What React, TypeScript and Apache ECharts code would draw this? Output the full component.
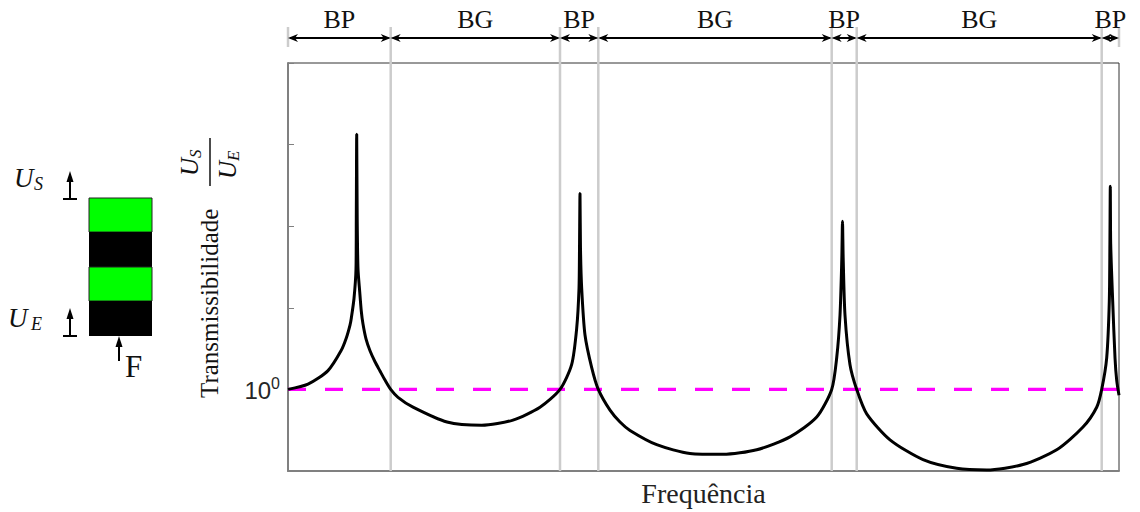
import React, { useEffect, useRef } from 'react';
import * as echarts from 'echarts';

// Frequency (arbitrary units, axis 0..831) and transmissibility U_S/U_E
const frequency = [
  0, 20, 40, 53, 58.3, 62, 63.3, 66, 68, 68.3, 68.7, 69.2, 70, 71.7, 73.3, 75, 78, 82, 87, 92, 97,
  102.7, 110, 125, 159, 193.7, 225, 252, 272, 283.7, 288.7, 291, 291.5, 292, 292.5, 293.7, 297, 303.7,
  310.3, 322, 332, 342, 368.7, 402, 435, 468.7, 502, 528.7, 543.7, 548.7, 552, 553.8, 554.5, 555.2,
  557, 562, 568.7, 578.7, 602, 635, 668.7, 698.7, 735, 768.7, 795, 808.7, 813.7, 818.7, 821.3, 821.9,
  822.3, 822.7, 824.7, 827, 828.7, 831,
];
const transmissibility = [
  1.0, 1.16, 1.7, 2.97, 4.27, 6.14, 7.46, 13.0, 30.1, 122, 1340, 122, 30.1, 15.8, 9.07, 6.31, 4.15, 2.97, 2.18, 1.68, 1.3,
  1.0, 0.8, 0.605, 0.398, 0.363, 0.421, 0.605, 1.0, 2.03, 5.64, 17.2, 52.6, 251, 52.6, 17.2, 4.64, 1.85,
  1.0, 0.556, 0.398, 0.314, 0.21, 0.164, 0.16, 0.182, 0.262, 0.458, 1.0, 2.44, 8.11, 39.8, 115, 39.8,
  8.11, 2.01, 1.0, 0.502, 0.241, 0.138, 0.108, 0.103, 0.12, 0.182, 0.346, 0.605, 1.0, 2.44, 12.0, 60.6,
  308, 60.6, 12.0, 2.44, 1.29, 0.846,
];
const bandEdges = [0, 102.7, 272, 310.3, 543.7, 568.7, 813.7, 831];
const bandLabels = ['BP', 'BG', 'BP', 'BG', 'BP', 'BG', 'BP'];
const referenceLevel = 1;
const xRange = [0, 831];
const yRange = [0.1, 10000];

const SERIF = '"Liberation Serif", "DejaVu Serif", serif';
const SANS = '"Liberation Sans", Arial, sans-serif';

function txt(text: string, x: number, y: number, size: number, italic: boolean, align = 'left', family = SERIF) {
  return {
    type: 'text',
    style: {
      text, x, y,
      font: `${italic ? 'italic ' : ''}${size}px ${family}`,
      fill: '#111',
      textAlign: align, align,
      textVerticalAlign: 'middle', verticalAlign: 'middle',
    },
  };
}

export default function App() {
  const ref = useRef<HTMLDivElement>(null);
  useEffect(() => {
    if (!ref.current) return;
    const chart = echarts.init(ref.current, null, { renderer: 'svg' });
    const curve = frequency.map((f, i) => [f, transmissibility[i]]);
    const bands = bandLabels.map((_, i) => [bandEdges[i], bandEdges[i + 1], referenceLevel]);
    const edges = bandEdges.map((e) => [e, referenceLevel]);

    const option: any = {
      animation: false,
      grid: { left: 288, top: 63, width: 831, height: 412, show: true, borderColor: '#333', borderWidth: 1, backgroundColor: 'transparent' },
      xAxis: {
        type: 'value', min: xRange[0], max: xRange[1],
        name: 'Frequência', nameLocation: 'middle', nameGap: 8,
        nameTextStyle: { fontFamily: SERIF, fontSize: 28, color: '#222' },
        axisLine: { show: true, onZero: false, lineStyle: { color: '#808080', width: 2 } },
        axisTick: { show: false }, axisLabel: { show: false }, splitLine: { show: false },
      },
      yAxis: {
        type: 'log', logBase: 10, min: yRange[0], max: yRange[1],
        axisLine: { show: true, lineStyle: { color: '#808080', width: 2 } },
        axisTick: { show: true, inside: true, length: 6, lineStyle: { color: '#808080', width: 1 } },
        minorTick: { show: false }, splitLine: { show: false },
        axisLabel: {
          margin: 8,
          formatter: (v: number) => (Math.abs(v - 1) < 1e-6 ? '{b|10}{s|0}' : ''),
          rich: {
            b: { fontFamily: SANS, fontSize: 24, color: '#262626', verticalAlign: 'bottom' },
            s: { fontFamily: SANS, fontSize: 16, color: '#262626', verticalAlign: 'bottom', padding: [0, 0, 11, 0] },
          },
        },
      },
      series: [
        {
          type: 'custom', z: 1, clip: false, data: edges, encode: { x: 0, y: 1 },
          renderItem: (params: any, api: any) => {
            const x = api.coord([api.value(0), referenceLevel])[0];
            const cs = params.coordSys;
            const isEnd = params.dataIndex === 0 || params.dataIndex === bandEdges.length - 1;
            return {
              type: 'line',
              shape: { x1: x, y1: cs.y - 36, x2: x, y2: isEnd ? cs.y - 16 : cs.y + cs.height },
              style: { stroke: '#cccccc', lineWidth: 2.5 },
            };
          },
        },
        {
          type: 'custom', z: 5, clip: false, data: bands, encode: { x: [0, 1], y: 2 },
          renderItem: (params: any, api: any) => {
            const x1 = api.coord([api.value(0), referenceLevel])[0];
            const x2 = api.coord([api.value(1), referenceLevel])[0];
            const cs = params.coordSys;
            const ya = cs.y - 25;
            const L = 10, H = 4, N = 7;
            return {
              type: 'group',
              children: [
                { type: 'line', shape: { x1: x1 + 2, y1: ya, x2: x2 - 2, y2: ya }, style: { stroke: '#000', lineWidth: 2 } },
                { type: 'polygon', shape: { points: [[x1, ya], [x1 + L, ya - H], [x1 + N, ya], [x1 + L, ya + H]] }, style: { fill: '#000' } },
                { type: 'polygon', shape: { points: [[x2, ya], [x2 - L, ya - H], [x2 - N, ya], [x2 - L, ya + H]] }, style: { fill: '#000' } },
                {
                  type: 'text',
                  style: {
                    text: bandLabels[params.dataIndex], x: (x1 + x2) / 2, y: cs.y - 44,
                    font: `26px ${SERIF}`, fill: '#111',
                    textAlign: 'center', align: 'center', textVerticalAlign: 'middle', verticalAlign: 'middle',
                  },
                },
              ],
            };
          },
        },
        {
          type: 'line', z: 3, data: [[xRange[0], referenceLevel], [xRange[1], referenceLevel]],
          symbol: 'none', lineStyle: { color: '#ff00ff', width: 3.4, type: [18, 19] },
        },
        {
          type: 'line', z: 4, data: curve, symbol: 'none', smooth: 0.25,
          lineStyle: { color: '#000', width: 3 },
        },
      ],
      graphic: [
        // block diagram
        { type: 'rect', shape: { x: 89, y: 198, width: 63, height: 34 }, style: { fill: '#00ff00', stroke: '#222', lineWidth: 1 } },
        { type: 'rect', shape: { x: 89, y: 232, width: 63, height: 35 }, style: { fill: '#000' } },
        { type: 'rect', shape: { x: 89, y: 267, width: 63, height: 34 }, style: { fill: '#00ff00', stroke: '#222', lineWidth: 1 } },
        { type: 'rect', shape: { x: 89, y: 301, width: 63, height: 35 }, style: { fill: '#000' } },
        { type: 'line', shape: { x1: 70, y1: 199, x2: 70, y2: 180 }, style: { stroke: '#000', lineWidth: 2 } },
        { type: 'polygon', shape: { points: [[70, 171], [66.5, 182], [73.5, 182]] }, style: { fill: '#000' } },
        { type: 'line', shape: { x1: 63, y1: 199, x2: 77, y2: 199 }, style: { stroke: '#000', lineWidth: 2 } },
        { type: 'line', shape: { x1: 70, y1: 336, x2: 70, y2: 317 }, style: { stroke: '#000', lineWidth: 2 } },
        { type: 'polygon', shape: { points: [[70, 308], [66.5, 319], [73.5, 319]] }, style: { fill: '#000' } },
        { type: 'line', shape: { x1: 63, y1: 336, x2: 77, y2: 336 }, style: { stroke: '#000', lineWidth: 2 } },
        { type: 'line', shape: { x1: 119, y1: 361, x2: 119, y2: 345 }, style: { stroke: '#000', lineWidth: 2 } },
        { type: 'polygon', shape: { points: [[119, 336], [115.5, 347], [122.5, 347]] }, style: { fill: '#000' } },
        txt('U', 14, 178, 27, true),
        txt('S', 34, 184, 18, true),
        txt('U', 8, 318, 27, true),
        txt('E', 31, 324, 18, true),
        txt('F', 125, 366, 31, false),
        // y-axis label (rotated)
        {
          type: 'group', x: 209.5, y: 398, rotation: Math.PI / 2,
          children: [
            txt('Transmissibilidade', 0, 0, 25, false),
            txt('U', 222, -20, 25, true),
            txt('S', 240, -14, 17, true),
            txt('U', 219, 18, 25, true),
            txt('E', 237, 24, 17, true),
            { type: 'line', shape: { x1: 212, y1: 0.5, x2: 260, y2: 0.5 }, style: { stroke: '#111', lineWidth: 1.5 } },
          ],
        },
      ],
    };
    chart.setOption(option);
    return () => chart.dispose();
  }, []);
  return <div ref={ref} style={{ position: 'fixed', left: 0, top: 0, width: 1140, height: 512, background: '#fff' }} />;
}
